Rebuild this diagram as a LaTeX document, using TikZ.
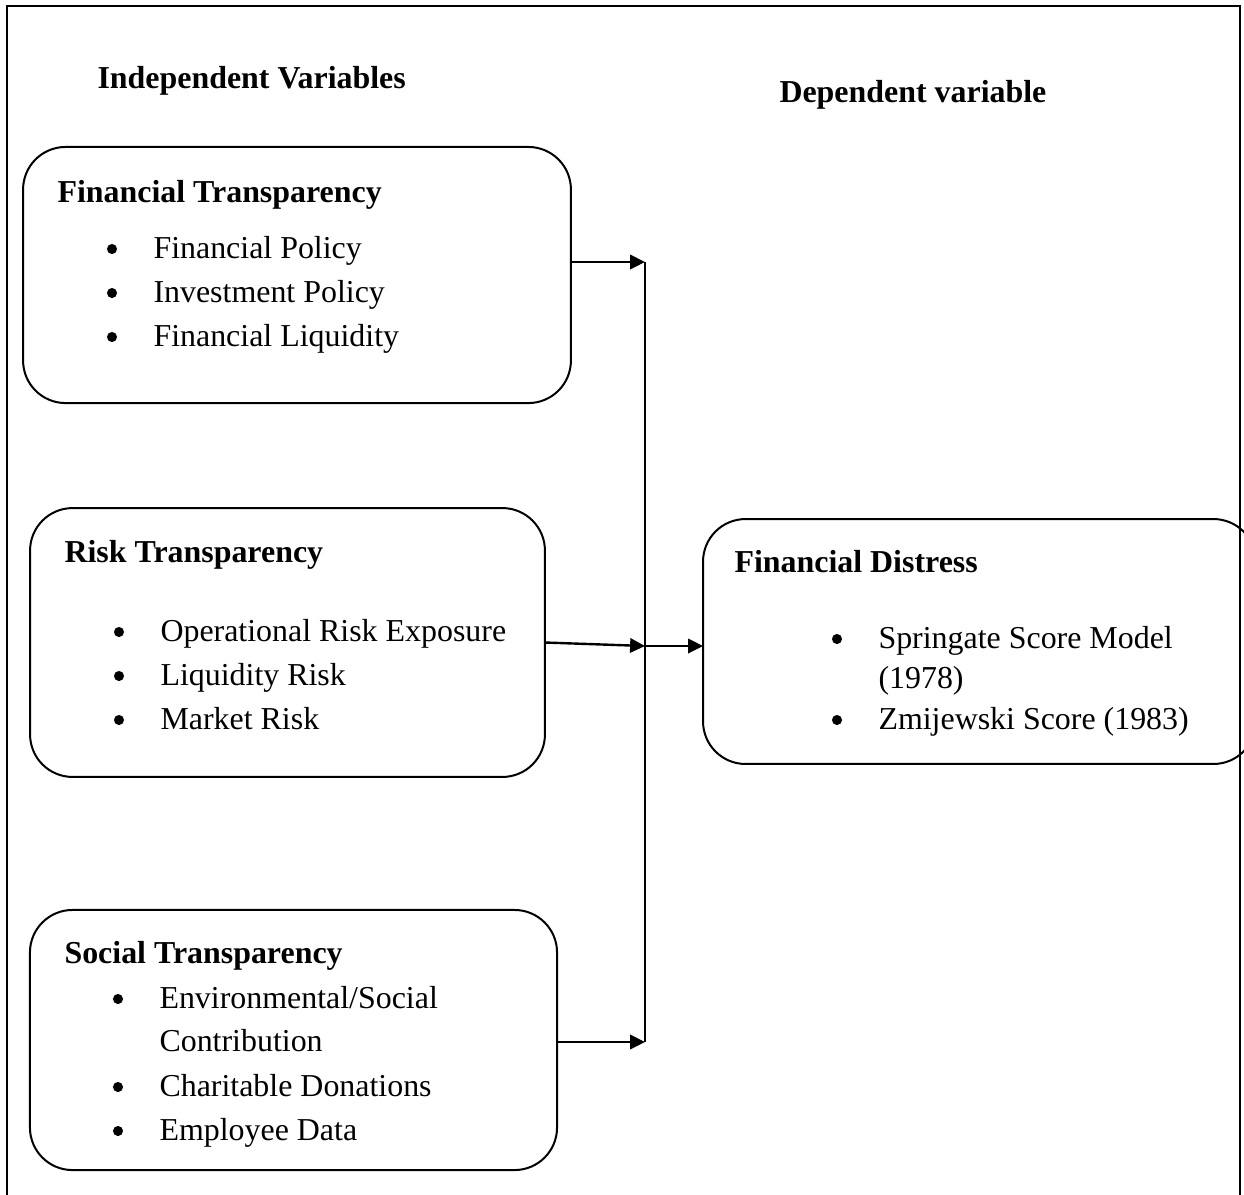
\documentclass[tikz,border=0pt]{standalone}
\usepackage{fontspec}
\setmainfont{Liberation Serif}
\usetikzlibrary{arrows.meta}
\begin{document}
\begin{tikzpicture}[x=0.376pt,y=-0.376pt,
  box/.style={draw, line width=0.75pt, rounded corners=16pt, inner sep=0pt, outer sep=0pt},
  head/.style={anchor=base west, inner sep=0pt, font=\bfseries\fontsize{12}{14}\selectfont},
  entry/.style={anchor=base west, inner sep=0pt, font=\fontsize{12}{14}\selectfont},
  link/.style={line width=0.9pt},
  tip/.style={-{Triangle[length=5.6pt,width=5.4pt]}, line width=0.9pt}]
\clip (0,0) rectangle (1244,1194);
\fill[white] (0,0) rectangle (1244,1194);
% outer frame, open at the bottom
\draw[line width=1.1pt] (7,1200) -- (7,6) -- (1240,6) -- (1240,1200);

% column titles
\node[head] (tin) at (97,88) {Independent Variables};
\node[head] (tdep) at (779,102) {Dependent variable};

% boxes
\node[box, minimum width=206.0pt, minimum height=96.3pt] (ft) at (297,275) {};
\node[box, minimum width=193.6pt, minimum height=101.1pt] (rt) at (287.5,642.5) {};
\node[box, minimum width=198.2pt, minimum height=97.8pt] (st) at (293.5,1040) {};
\node[box, minimum width=207.9pt, minimum height=92.1pt] (fd) at (979.5,641.5) {};

% Financial Transparency
\node[head] (fth) at (57,202) {Financial Transparency};
\node[entry] (ft1) at (153,258) {Financial Policy};
\node[entry] (ft2) at (153,302) {Investment Policy};
\node[entry] (ft3) at (153,346) {Financial Liquidity};

% Risk Transparency
\node[head] (rth) at (64,562) {Risk Transparency};
\node[entry] (rt1) at (160,641) {Operational Risk Exposure};
\node[entry] (rt2) at (160,685) {Liquidity Risk};
\node[entry] (rt3) at (160,729) {Market Risk};

% Social Transparency
\node[head] (sth) at (64,963) {Social Transparency};
\node[entry] (st1) at (159,1008) {Environmental/Social};
\node[entry] (st1b) at (159,1051) {Contribution};
\node[entry] (st2) at (159,1096) {Charitable Donations};
\node[entry] (st3) at (159,1140) {Employee Data};

% Financial Distress
\node[head] (fdh) at (734,572) {Financial Distress};
\node[entry] (fd1) at (878,648) {Springate Score Model};
\node[entry] (fd1b) at (878,688) {(1978)};
\node[entry] (fd2) at (878,729) {Zmijewski Score (1983)};

% list bullets, hanging left of each item
\foreach \n in {ft1,ft2,ft3,rt1,rt2,rt3,st1,st2,st3,fd1,fd2}
  \fill ([shift={(-41,-9)}]\n.base west) circle[radius=1.9pt];

% connectors
\coordinate (j1) at (645,262);
\coordinate (j2) at (645,646);
\coordinate (j3) at (645,1042);
\draw[link] (j1) -- (j3);
\draw[tip] (ft.east |- j1) -- (j1);
\draw[tip] (rt.east) -- (j2);
\draw[tip] (st.east |- j3) -- (j3);
\draw[tip] (j2) -- (fd.west |- j2);
\end{tikzpicture}
\end{document}
